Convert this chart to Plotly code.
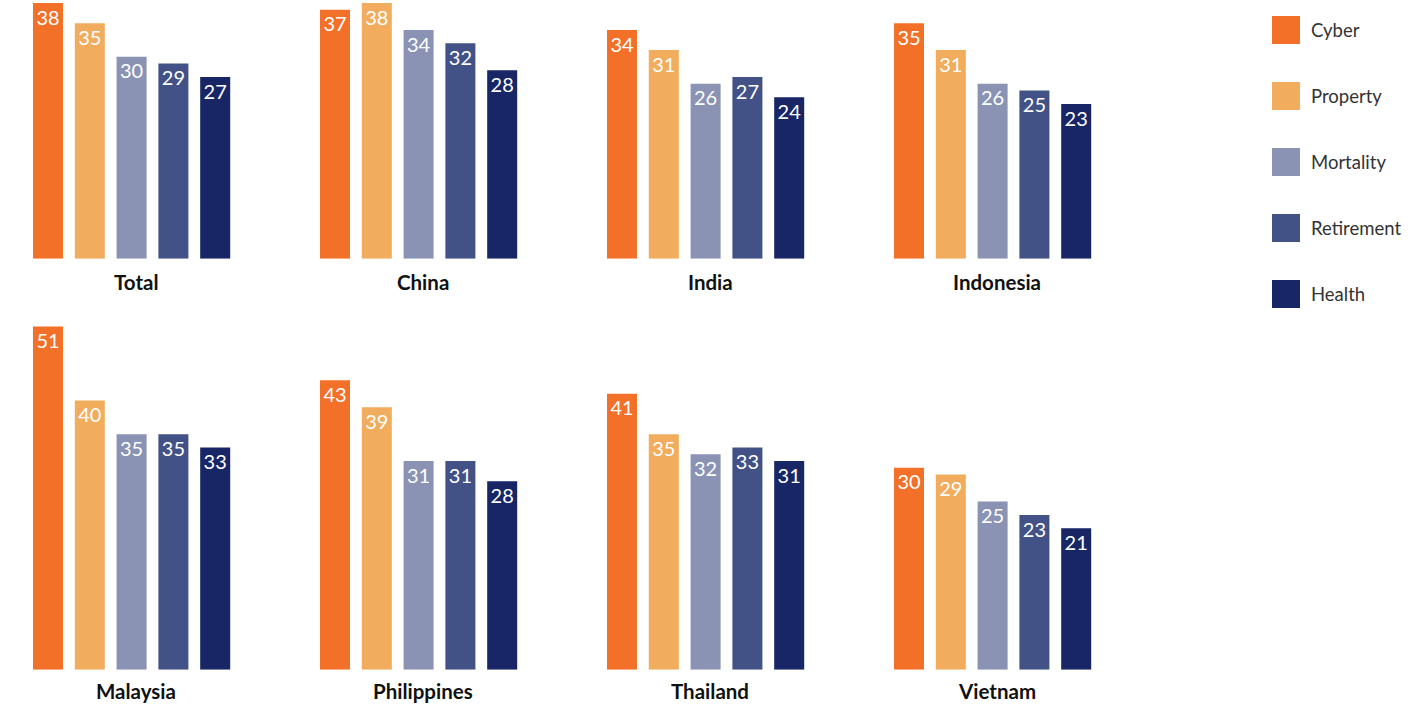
import plotly.graph_objects as go

# ---- data ----
groups = ["Total", "China", "India", "Indonesia", "Malaysia", "Philippines", "Thailand", "Vietnam"]
series = ["Cyber", "Property", "Mortality", "Retirement", "Health"]
cyber = [38, 37, 34, 35, 51, 43, 41, 30]
prop = [35, 38, 31, 31, 40, 39, 35, 29]
mortality = [30, 34, 26, 26, 35, 31, 32, 25]
retirement = [29, 32, 27, 25, 35, 31, 33, 23]
health = [27, 28, 24, 23, 33, 28, 31, 21]
colors = ["#F27028", "#F1AD5D", "#8A93B4", "#435286", "#182666"]

W, H = 1425, 704
FONT = "Lato"
PXU = 6.73  # pixels per unit (shared scale)

fig = go.Figure()
all_vals = [cyber, prop, mortality, retirement, health]

row_base = [258.7, 669.7]
row_top = [0.0, 320.0]
label_off = [23.5, 21.0]
annotations = []
layout_axes = {}
for i, g in enumerate(groups):
    r, c = divmod(i, 4)
    vals = [s[i] for s in all_vals]
    x0 = 27.1 + 287 * c
    x1 = x0 + 209
    n = i + 1
    xa = "x" if n == 1 else f"x{n}"
    ya = "y" if n == 1 else f"y{n}"
    fig.add_trace(go.Bar(x=series, y=vals, marker=dict(color=colors, line=dict(width=0)),
                         xaxis=xa, yaxis=ya, showlegend=False, hoverinfo="skip"))
    fig.add_trace(go.Scatter(x=series, y=vals, mode="markers+text", text=[str(v) for v in vals],
                             textposition="bottom center", cliponaxis=False,
                             marker=dict(size=9, color="rgba(0,0,0,0)"),
                             textfont=dict(family=FONT, size=20, color="white"),
                             xaxis=xa, yaxis=ya, showlegend=False, hoverinfo="skip"))
    base, top = row_base[r], row_top[r]
    yr = (base - top) / PXU
    layout_axes[f"xaxis{'' if n == 1 else n}"] = dict(domain=[x0 / W, x1 / W], range=[-0.5, 4.5],
                                                     visible=False, fixedrange=True, anchor=ya)
    layout_axes[f"yaxis{'' if n == 1 else n}"] = dict(domain=[1 - base / H, 1 - top / H], range=[0, yr],
                                                     visible=False, fixedrange=True, anchor=xa)
    annotations.append(dict(text=f"<b>{g}</b>", x=((x0 + x1) / 2 + 4.5) / W, y=1 - (base + label_off[r]) / H,
                            xref="paper", yref="paper", xanchor="center", yanchor="middle",
                            showarrow=False, font=dict(family=FONT, size=20.5, color="#111111")))

# custom legend
shapes = []
for k, (s, col) in enumerate(zip(series, colors)):
    ty = 16 + 66 * k
    shapes.append(dict(type="rect", xref="paper", yref="paper", x0=1272 / W, x1=1300 / W,
                       y0=1 - (ty + 28) / H, y1=1 - ty / H, fillcolor=col, line=dict(width=0)))
    annotations.append(dict(text=s, x=1309 / W, y=1 - (ty + 14) / H, xref="paper", yref="paper",
                            xanchor="left", yanchor="middle", showarrow=False,
                            font=dict(family=FONT, size=18.5, color="#333333")))

fig.update_layout(width=W, height=H, margin=dict(l=0, r=0, t=0, b=0),
                  paper_bgcolor="white", plot_bgcolor="white", bargap=0.282,
                  annotations=annotations, shapes=shapes, **layout_axes)
fig.write_html("out.html")
